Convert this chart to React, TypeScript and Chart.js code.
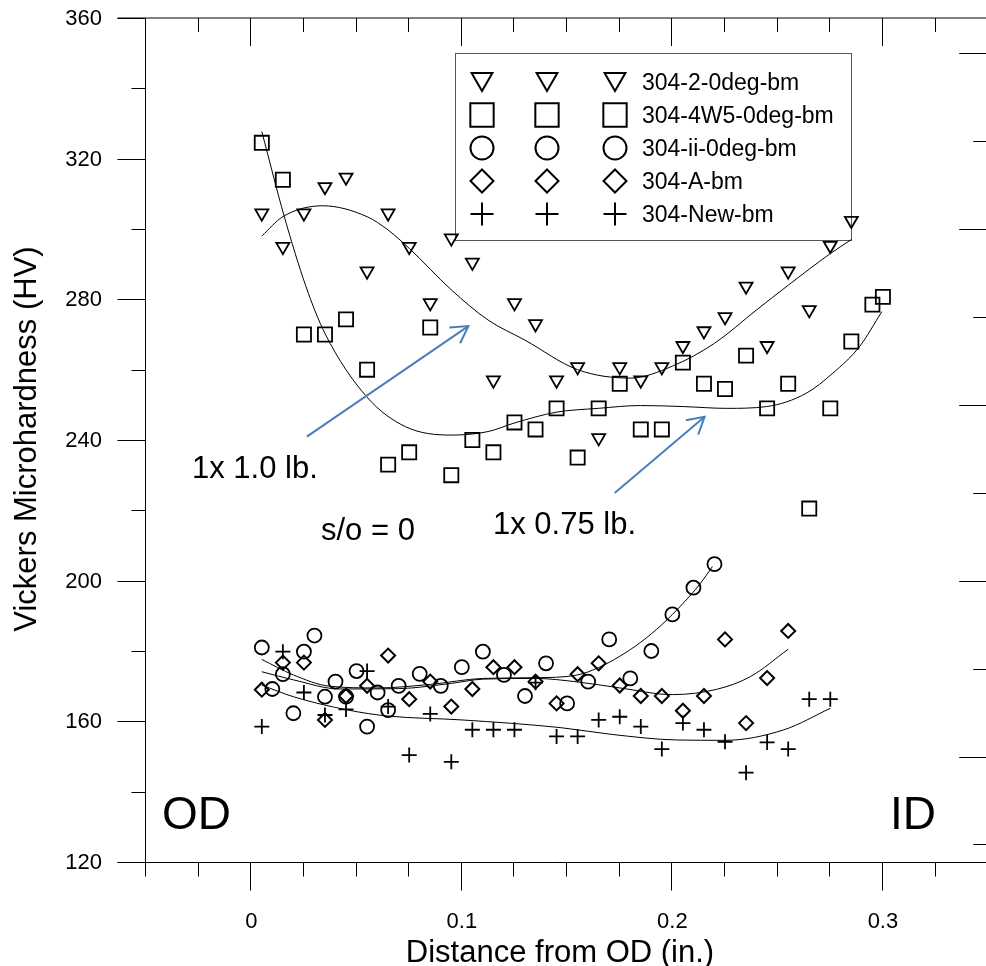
import React, { useEffect, useRef } from 'react';
import { Chart, registerables } from 'chart.js';

Chart.register(...registerables);

const FONT = '"Liberation Sans", Arial, Helvetica, sans-serif';

// ---------------- data ----------------
const seriesNames = ['304-2-0deg-bm', '304-4W5-0deg-bm', '304-ii-0deg-bm', '304-A-bm', '304-New-bm'];

const triX = [0.005, 0.015, 0.025, 0.035, 0.045, 0.055, 0.065, 0.075, 0.085, 0.095, 0.105, 0.115, 0.125, 0.135, 0.145, 0.155, 0.165, 0.175, 0.185, 0.195, 0.205, 0.215, 0.225, 0.235, 0.245, 0.255, 0.265, 0.275, 0.285];
const triY = [304.5, 295, 304.5, 312, 314.7, 288, 304.5, 295, 279, 297.4, 290.5, 257, 279, 273, 257, 260.8, 240.6, 260.8, 257, 260.8, 266.8, 271, 275, 283.7, 266.8, 288, 277, 295.3, 302.4];

const sqX = [0.005, 0.015, 0.025, 0.035, 0.045, 0.055, 0.065, 0.075, 0.085, 0.095, 0.105, 0.115, 0.125, 0.135, 0.145, 0.155, 0.165, 0.175, 0.185, 0.195, 0.205, 0.215, 0.225, 0.235, 0.245, 0.255, 0.265, 0.275, 0.285, 0.295, 0.3];
const sqY = [324.5, 314, 270, 270, 274.3, 260, 233, 236.5, 272, 230, 240, 236.5, 245, 243, 249, 235, 249, 256, 243, 243, 262, 256, 254.5, 264, 249, 256, 220.5, 249, 268, 278.5, 280.7];

const cirX = [0.005, 0.01, 0.015, 0.02, 0.025, 0.03, 0.035, 0.04, 0.045, 0.05, 0.055, 0.06, 0.065, 0.07, 0.08, 0.09, 0.1, 0.11, 0.12, 0.13, 0.14, 0.15, 0.16, 0.17, 0.18, 0.19, 0.2, 0.21, 0.22];
const cirY = [181, 169.2, 173.4, 162.3, 179.8, 184.4, 167, 171.3, 167, 174.3, 158.5, 168.2, 163.2, 170.1, 173.5, 170.1, 175.4, 179.8, 173.2, 167.2, 176.5, 165.1, 171.3, 183.3, 172.2, 180, 190.4, 198, 204.7];

const diaX = [0.005, 0.015, 0.025, 0.035, 0.045, 0.055, 0.065, 0.075, 0.085, 0.095, 0.105, 0.115, 0.125, 0.135, 0.145, 0.155, 0.165, 0.175, 0.185, 0.195, 0.205, 0.215, 0.225, 0.235, 0.245, 0.255];
const diaY = [169, 176.7, 176.7, 160.4, 167.2, 170.1, 178.7, 166.3, 171.3, 164.2, 169.2, 175.4, 175.4, 171.3, 165.1, 173.4, 176.5, 170.2, 167.2, 167.2, 163, 167.2, 183.3, 159.5, 172.3, 185.7];

const plusX = [0.005, 0.015, 0.025, 0.035, 0.045, 0.055, 0.065, 0.075, 0.085, 0.095, 0.105, 0.115, 0.125, 0.135, 0.145, 0.155, 0.165, 0.175, 0.185, 0.195, 0.205, 0.215, 0.225, 0.235, 0.245, 0.255, 0.265, 0.275];
const plusY = [158.5, 179.8, 168.2, 161.8, 163.4, 174.3, 164.2, 150.4, 162.1, 148.5, 157.6, 157.6, 157.6, 171, 155.7, 155.7, 160.4, 161.3, 158.5, 152.1, 159.5, 157.6, 154.2, 145.4, 154, 152.1, 166.3, 166.3];

// fitted curves
const fitTriX = [0.005, 0.015, 0.034, 0.055, 0.065, 0.075, 0.095, 0.1125, 0.13, 0.155, 0.18, 0.2, 0.22, 0.24, 0.255, 0.275, 0.285];
const fitTriY = [298, 303.5, 306.6, 303.5, 299.7, 294.5, 282.7, 274.1, 268.4, 260, 257.6, 261, 267.5, 277, 284, 293, 297];

const fitSqX = [0.005, 0.0157, 0.026, 0.035, 0.0548, 0.0732, 0.0952, 0.1125, 0.1248, 0.1448, 0.1648, 0.1849, 0.2054, 0.2258, 0.2447, 0.2636, 0.2762, 0.2888, 0.2995];
const fitSqY = [327.7, 303.5, 283.6, 270.3, 252.3, 243.8, 241.4, 242.4, 244.8, 247.9, 249, 249.8, 249.5, 249, 249.5, 253.3, 259, 266.5, 276.5];

const fitCirX = [0.005, 0.02, 0.037, 0.06, 0.085, 0.11, 0.135, 0.155, 0.165, 0.175, 0.185, 0.195, 0.205, 0.213, 0.219];
const fitCirY = [177.6, 173.2, 170, 169.5, 170.5, 172.2, 172.4, 173.2, 175.3, 178.5, 182.5, 187.5, 193.5, 199, 204];

const fitDiaX = [0.005, 0.02, 0.042, 0.07, 0.095, 0.11, 0.135, 0.155, 0.175, 0.2, 0.221, 0.237, 0.255];
const fitDiaY = [174.1, 171.8, 169.2, 169.3, 170.8, 172, 172.2, 171.2, 169.5, 167.6, 169.1, 172.7, 180.5];

const fitPlusX = [0.005, 0.02, 0.046, 0.065, 0.1, 0.147, 0.171, 0.202, 0.225, 0.253, 0.275];
const fitPlusY = [170.3, 167, 163.2, 161.5, 160.4, 158.2, 156.3, 154.7, 154.6, 157.6, 163.7];

// axes
const xMin = -0.05, xMax = 0.35, yMin = 120, yMax = 360;
const xTickValues = [0, 0.1, 0.2, 0.3];
const xTickLabels = ['0', '0.1', '0.2', '0.3'];
const yTickValues = [120, 160, 200, 240, 280, 320, 360];
const yTickLabels = ['120', '160', '200', '240', '280', '320', '360'];
const xTitle = 'Distance from OD (in.)';
const yTitle = 'Vickers Microhardness (HV)';

// annotation arrows (data coordinates)
const arrowFromX = [0.0264, 0.1726];
const arrowFromY = [240.95, 224.9];
const arrowToX = [0.1031, 0.2153];
const arrowToY = [272.4, 246.6];

const pts = (xs: number[], ys: number[]) => xs.map((x, i) => ({ x, y: ys[i] }));

type Mk = 'tri' | 'sq' | 'cir' | 'dia' | 'plus';

function drawMarker(ctx: CanvasRenderingContext2D, m: Mk, x: number, y: number, r: number) {
  ctx.beginPath();
  if (m === 'tri') {
    const s = Math.sin(Math.PI / 3) * r;
    ctx.moveTo(x, y + r);
    ctx.lineTo(x - s, y - r / 2);
    ctx.lineTo(x + s, y - r / 2);
    ctx.closePath();
  } else if (m === 'sq') {
    const h = Math.SQRT1_2 * r;
    ctx.rect(x - h, y - h, 2 * h, 2 * h);
  } else if (m === 'cir') {
    ctx.arc(x, y, r, 0, Math.PI * 2);
  } else if (m === 'dia') {
    ctx.moveTo(x - r, y);
    ctx.lineTo(x, y - r);
    ctx.lineTo(x + r, y);
    ctx.lineTo(x, y + r);
    ctx.closePath();
  } else {
    ctx.moveTo(x - r, y);
    ctx.lineTo(x + r, y);
    ctx.moveTo(x, y - r);
    ctx.lineTo(x, y + r);
  }
  ctx.stroke();
}

const axesPlugin = {
  id: 'axesPlugin',
  beforeDatasetsDraw(chart: any) {
    // legend (transparent box)
    const ctx: CanvasRenderingContext2D = chart.ctx;
    ctx.save();
    ctx.strokeStyle = '#555';
    ctx.lineWidth = 1;
    ctx.strokeRect(455.5, 53.5, 396, 187);
    const markers: Mk[] = ['tri', 'sq', 'cir', 'dia', 'plus'];
    const radii = [12, 16.5, 11.5, 11.5, 11.5];
    const rowY = [82, 115, 148, 181, 214];
    const colX = [482, 547, 615];
    ctx.strokeStyle = '#000';
    ctx.lineWidth = 2;
    ctx.fillStyle = '#000';
    ctx.font = `23px ${FONT}`;
    ctx.textAlign = 'left';
    ctx.textBaseline = 'alphabetic';
    markers.forEach((m, i) => {
      const yy = m === 'tri' ? rowY[i] - 3 : rowY[i];
      colX.forEach((cx) => drawMarker(ctx, m, cx, yy, radii[i]));
      ctx.fillText(seriesNames[i], 642, rowY[i] + 8);
    });
    ctx.restore();
  },
  afterDraw(chart: any) {
    const ctx: CanvasRenderingContext2D = chart.ctx;
    const a = chart.chartArea;
    const xs = chart.scales.x;
    const ys = chart.scales.y;
    const L = Math.round(a.left) - 0.5;
    const B = Math.round(a.bottom) + 0.5;
    ctx.save();
    ctx.strokeStyle = '#000';
    ctx.lineWidth = 1;
    const seg = (x1: number, y1: number, x2: number, y2: number) => {
      ctx.beginPath();
      ctx.moveTo(x1, y1);
      ctx.lineTo(x2, y2);
      ctx.stroke();
    };
    // frame
    seg(L, a.top, L, B);
    seg(L - 28, B - 0.5 + 0.5, a.right, B);
    seg(L - 28, a.top, a.right, a.top);
    seg(a.right, a.top, a.right, a.bottom);

    // left ticks: every 20, major every 40
    for (let v = yMin; v <= yMax; v += 20) {
      const py = Math.round(ys.getPixelForValue(v)) + 0.5;
      const len = (v - yMin) % 40 === 0 ? 28 : 14;
      seg(L - len, py, L, py);
    }
    // right ticks (inward): every 25, major every 50
    for (let v = 125; v <= 350; v += 25) {
      const py = Math.round(ys.getPixelForValue(v)) + 0.5;
      const len = v % 50 === 0 ? 29 : 15;
      seg(a.right - len, py, a.right, py);
    }
    // bottom (outward) and top (inward) ticks: every 0.025, major every 0.1
    for (let i = -2; i <= 14; i++) {
      const v = i * 0.025;
      const px = Math.round(xs.getPixelForValue(v)) - 0.5;
      const major = ((i % 4) + 4) % 4 === 0;
      seg(px, B, px, B + (major ? 28 : 14));
      seg(px, a.top, px, a.top + (major ? 28 : 14));
    }

    // tick labels
    ctx.fillStyle = '#000';
    ctx.font = `22px ${FONT}`;
    ctx.textAlign = 'right';
    ctx.textBaseline = 'middle';
    yTickValues.forEach((v, i) => ctx.fillText(yTickLabels[i], 102, ys.getPixelForValue(v) + 1));
    ctx.textAlign = 'center';
    ctx.textBaseline = 'alphabetic';
    xTickValues.forEach((v, i) => ctx.fillText(xTickLabels[i], xs.getPixelForValue(v), 928));

    // titles
    ctx.font = `31px ${FONT}`;
    ctx.fillText(xTitle, 560, 962);
    ctx.save();
    ctx.translate(36, 439);
    ctx.rotate(-Math.PI / 2);
    ctx.fillText(yTitle, 0, 0);
    ctx.restore();

    // annotations
    ctx.textAlign = 'left';
    ctx.font = `31px ${FONT}`;
    ctx.fillText('1x 1.0 lb.', 192, 478);
    ctx.fillText('s/o = 0', 321, 540);
    ctx.fillText('1x 0.75 lb.', 493, 534);
    ctx.font = `46px ${FONT}`;
    ctx.fillText('OD', 162, 829);
    ctx.textAlign = 'right';
    ctx.fillText('ID', 936, 829);

    // arrows
    ctx.strokeStyle = '#4a7ebb';
    ctx.lineWidth = 2;
    arrowFromX.forEach((fx, i) => {
      const x1 = xs.getPixelForValue(fx);
      const y1 = ys.getPixelForValue(arrowFromY[i]);
      const x2 = xs.getPixelForValue(arrowToX[i]);
      const y2 = ys.getPixelForValue(arrowToY[i]);
      seg(x1, y1, x2, y2);
      const ang = Math.atan2(y1 - y2, x1 - x2);
      const hl = 19;
      const ha = Math.PI / 6;
      ctx.beginPath();
      ctx.moveTo(x2 + hl * Math.cos(ang + ha), y2 + hl * Math.sin(ang + ha));
      ctx.lineTo(x2, y2);
      ctx.lineTo(x2 + hl * Math.cos(ang - ha), y2 + hl * Math.sin(ang - ha));
      ctx.stroke();
    });
    ctx.restore();
  },
};

function markerDataset(xs: number[], ys: number[], style: string, radius: number, rotation = 0, bw = 1.8) {
  return {
    data: pts(xs, ys),
    showLine: false,
    pointStyle: style,
    pointRadius: radius,
    pointRotation: rotation,
    pointBorderColor: '#000',
    pointBackgroundColor: 'rgba(0,0,0,0)',
    pointBorderWidth: bw,
    pointHoverRadius: radius,
  };
}

function fitDataset(xs: number[], ys: number[]) {
  return {
    data: pts(xs, ys),
    showLine: true,
    borderColor: '#000',
    borderWidth: 1,
    pointRadius: 0,
    pointHoverRadius: 0,
    cubicInterpolationMode: 'monotone',
    fill: false,
  };
}

export default function App() {
  const ref = useRef<HTMLCanvasElement>(null);
  useEffect(() => {
    if (!ref.current) return;
    const chart = new Chart(ref.current, {
      type: 'scatter',
      data: {
        datasets: [
          fitDataset(fitTriX, fitTriY),
          fitDataset(fitSqX, fitSqY),
          fitDataset(fitCirX, fitCirY),
          fitDataset(fitDiaX, fitDiaY),
          fitDataset(fitPlusX, fitPlusY),
          markerDataset(triX, triY, 'triangle', 7.5, 180),
          markerDataset(sqX, sqY, 'rect', 10),
          markerDataset(cirX, cirY, 'circle', 7),
          markerDataset(diaX, diaY, 'rectRot', 7, 0, 2),
          markerDataset(plusX, plusY, 'cross', 7.5),
        ] as any,
      },
      options: {
        animation: false,
        responsive: false,
        devicePixelRatio: 1,
        events: [],
        layout: { padding: { left: 146, right: 7, top: 18, bottom: 104 } },
        plugins: { legend: { display: false }, tooltip: { enabled: false }, title: { display: false } },
        scales: {
          x: { type: 'linear', min: xMin, max: xMax, display: false },
          y: { type: 'linear', min: yMin, max: yMax, display: false },
        },
      } as any,
      plugins: [axesPlugin],
    });
    return () => chart.destroy();
  }, []);
  return (
    <div style={{ position: 'fixed', left: 0, top: 0, width: 986, height: 966, overflow: 'hidden', background: '#fff' }}>
      <canvas ref={ref} width={1000} height={966} style={{ display: 'block' }} />
    </div>
  );
}
